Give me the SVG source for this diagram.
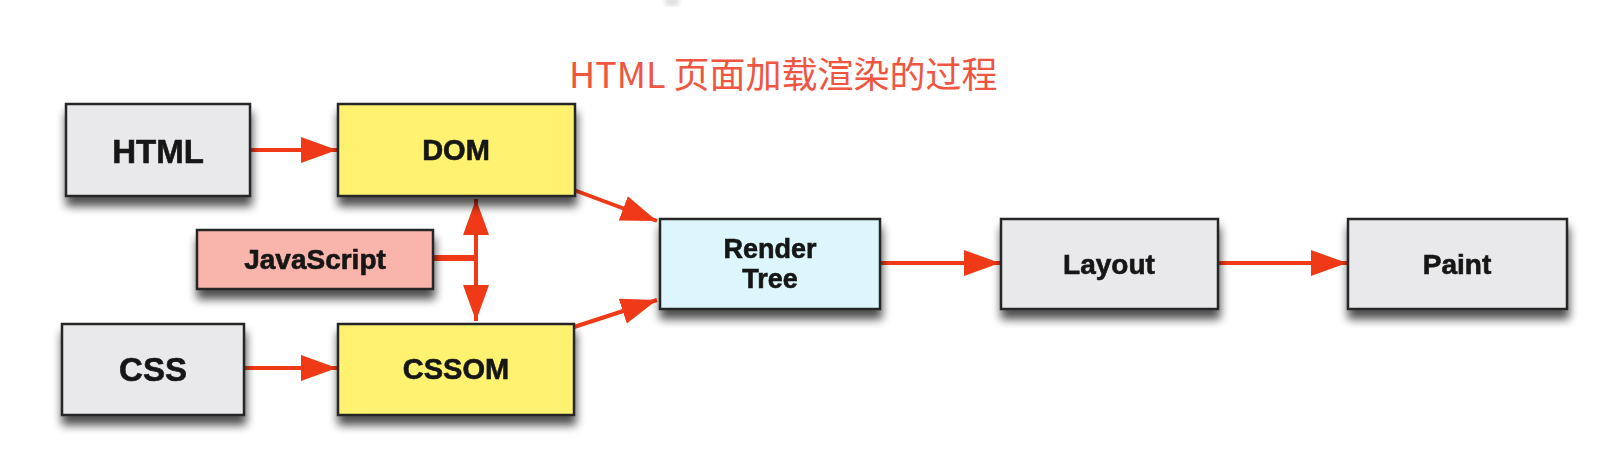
<svg xmlns="http://www.w3.org/2000/svg" width="1622" height="466" viewBox="0 0 1622 466">
<defs>
<filter id="sh" x="-20%" y="-20%" width="140%" height="170%">
<feGaussianBlur in="SourceAlpha" stdDeviation="5"/>
<feOffset dx="1" dy="9" result="b"/>
<feComponentTransfer><feFuncA type="linear" slope="0.7"/></feComponentTransfer>
<feMerge><feMergeNode/><feMergeNode in="SourceGraphic"/></feMerge>
</filter>
<filter id="blur"><feGaussianBlur stdDeviation="2"/></filter>
<marker id="ah" markerUnits="userSpaceOnUse" markerWidth="40" markerHeight="28" refX="36" refY="13" orient="auto">
<path d="M0,0 L36,13 L0,26 z" fill="#f03a17"/>
</marker>
<marker id="ahs" markerUnits="userSpaceOnUse" markerWidth="40" markerHeight="28" refX="36" refY="13" orient="auto-start-reverse">
<path d="M0,0 L36,13 L0,26 z" fill="#f03a17"/>
</marker>
</defs>
<style>
.box{stroke:#262626;stroke-width:2.5}
.grey{fill:#e9e9ec}
.yellow{fill:#fff270}
.pink{fill:#f9b4ac}
.blue{fill:#dcf6fb}
.lbl{font-family:"Liberation Sans",Arial,sans-serif;font-weight:bold;fill:#141414;stroke:#141414;stroke-width:0.6;text-anchor:middle}
.conn{stroke:#f03a17;stroke-width:4;fill:none}
.title{font-family:"Noto Sans CJK SC","Noto Sans",sans-serif;fill:#ef5541;font-size:36px}
</style>
<rect width="1622" height="466" fill="#ffffff"/>
<ellipse cx="672" cy="2" rx="8" ry="4" fill="#bbbbbb" opacity="0.5" filter="url(#blur)"/>
<text class="title" x="569" y="88">HTML 页面加载渲染的过程</text>
<g id="connectors">
<line class="conn" x1="250" y1="150" x2="337" y2="150" marker-end="url(#ah)"/>
<line class="conn" x1="244" y1="368" x2="337" y2="368" marker-end="url(#ah)"/>
<line class="conn" x1="574" y1="190" x2="657" y2="221" marker-end="url(#ah)"/>
<line class="conn" x1="574" y1="327" x2="657" y2="300" marker-end="url(#ah)"/>
<line class="conn" x1="476" y1="199" x2="476" y2="321" marker-start="url(#ahs)" marker-end="url(#ah)"/>
<line x1="433" y1="258" x2="476" y2="258" stroke="#f03a17" stroke-width="6"/>
<line class="conn" x1="880" y1="263" x2="1000" y2="263" marker-end="url(#ah)"/>
<line class="conn" x1="1218" y1="263" x2="1347" y2="263" marker-end="url(#ah)"/>
</g>
<g id="node-html" filter="url(#sh)">
<rect class="box grey" x="66" y="104" width="184" height="92"/>
<text class="lbl" x="158" y="163" font-size="33">HTML</text>
</g>
<g id="node-dom" filter="url(#sh)">
<rect class="box yellow" x="338" y="104" width="237" height="92"/>
<text class="lbl" x="456" y="160" font-size="29">DOM</text>
</g>
<g id="node-js" filter="url(#sh)">
<rect class="box pink" x="197" y="230" width="236" height="59"/>
<text class="lbl" x="315" y="269" font-size="28">JavaScript</text>
</g>
<g id="node-css" filter="url(#sh)">
<rect class="box grey" x="62" y="324" width="182" height="91"/>
<text class="lbl" x="153" y="381" font-size="33">CSS</text>
</g>
<g id="node-cssom" filter="url(#sh)">
<rect class="box yellow" x="338" y="324" width="236" height="91"/>
<text class="lbl" x="456" y="379" font-size="29">CSSOM</text>
</g>
<g id="node-render" filter="url(#sh)">
<rect class="box blue" x="660" y="219" width="220" height="90"/>
<text class="lbl" x="770" y="258" font-size="27">Render</text>
<text class="lbl" x="770" y="288" font-size="27">Tree</text>
</g>
<g id="node-layout" filter="url(#sh)">
<rect class="box grey" x="1001" y="219" width="217" height="90"/>
<text class="lbl" x="1109" y="274" font-size="28">Layout</text>
</g>
<g id="node-paint" filter="url(#sh)">
<rect class="box grey" x="1348" y="219" width="219" height="90"/>
<text class="lbl" x="1457" y="274" font-size="28">Paint</text>
</g>
</svg>
